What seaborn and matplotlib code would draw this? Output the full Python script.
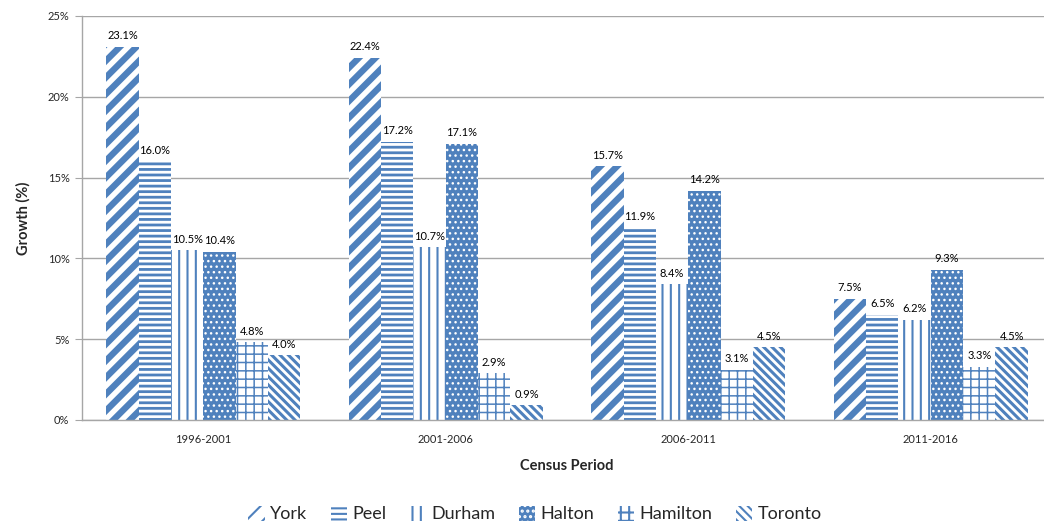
import pandas as pd
import matplotlib.pyplot as plt
import seaborn as sns

# growth by census period
periods = ["1996-2001", "2001-2006", "2006-2011", "2011-2016"]
regions = ["York", "Peel", "Durham", "Halton", "Hamilton", "Toronto"]
york = [23.1, 22.4, 15.7, 7.5]
peel = [16.0, 17.2, 11.9, 6.5]
durham = [10.5, 10.7, 8.4, 6.2]
halton = [10.4, 17.1, 14.2, 9.3]
hamilton = [4.8, 2.9, 3.1, 3.3]
toronto = [4.0, 0.9, 4.5, 4.5]
y_ticks = [0, 5, 10, 15, 20, 25]

series = [york, peel, durham, halton, hamilton, toronto]
df = pd.DataFrame(
    [(p, r, v) for r, vals in zip(regions, series) for p, v in zip(periods, vals)],
    columns=["period", "region", "growth"],
)

blue = "#4F81BD"
# (face, hatch colour, hatch, hatch linewidth) - excel-like pattern fills
patterns = [
    ("white", blue, "//", 4.6),
    ("white", blue, "---", 2.0),
    ("white", blue, "||", 1.5),
    (blue, "white", "...", 1.0),
    ("white", blue, "++", 1.1),
    ("white", blue, "\\\\\\\\", 2.2),
]

sns.set_style("white")
plt.rcParams["font.family"] = ["Lato", "DejaVu Sans"]
plt.rcParams["hatch.linewidth"] = 1.5

fig = plt.figure(figsize=(10.44, 5.27), dpi=100)
ax = fig.add_axes([82 / 1044, 107 / 527, (1052 - 82) / 1044, 404 / 527])

sns.barplot(data=df, x="period", y="growth", hue="region", order=periods,
            hue_order=regions, palette=[blue] * 6, saturation=1, width=0.8,
            errorbar=None, legend=False, ax=ax)

for cont, (face, hcol, hatch, hlw), vals in zip(ax.containers, patterns, series):
    for p in cont.patches:
        p.set_facecolor(face)
        p.set_edgecolor(hcol)
        p.set_linewidth(0)
        p.set_hatch(hatch)
        if hasattr(p, "set_hatch_linewidth"):
            p.set_hatch_linewidth(hlw)
    ax.bar_label(cont, labels=[f"{v:.1f}%" for v in vals], padding=4,
                 fontsize=8, color="black")

ax.set_ylim(0, 25)
ax.set_yticks(y_ticks)
ax.set_yticklabels([f"{t}%" for t in y_ticks], fontsize=8)
ax.set_xlim(-0.5, 3.5)
ax.set_xticks(range(len(periods)))
ax.set_xticklabels(periods, fontsize=8)
ax.set_xticks([0.5, 1.5, 2.5], minor=True)
ax.tick_params(axis="x", which="major", length=0, pad=10)
ax.tick_params(axis="x", which="minor", length=5, color="#A6A6A6", direction="out")
ax.tick_params(axis="y", length=5, color="#A6A6A6", direction="out", left=True, pad=4)
ax.yaxis.grid(True, color="#A6A6A6", linewidth=1)
ax.set_axisbelow(True)
for side in ["top", "right"]:
    ax.spines[side].set_visible(False)
for side in ["left", "bottom"]:
    ax.spines[side].set_color("#A6A6A6")
    ax.spines[side].set_linewidth(1)

ax.set_xlabel("Census Period", fontsize=10.5, fontweight="bold", labelpad=10)
ax.set_ylabel("Growth (%)", fontsize=10.5, fontweight="bold", labelpad=12)

fig.legend(handles=ax.containers, labels=regions, ncol=6, loc="center",
           bbox_to_anchor=(535 / 1044, 13 / 527), frameon=False, fontsize=13,
           handlelength=0.9, handleheight=0.9, handletextpad=0.3, columnspacing=1.3)

fig.savefig("out.png", dpi=100)
